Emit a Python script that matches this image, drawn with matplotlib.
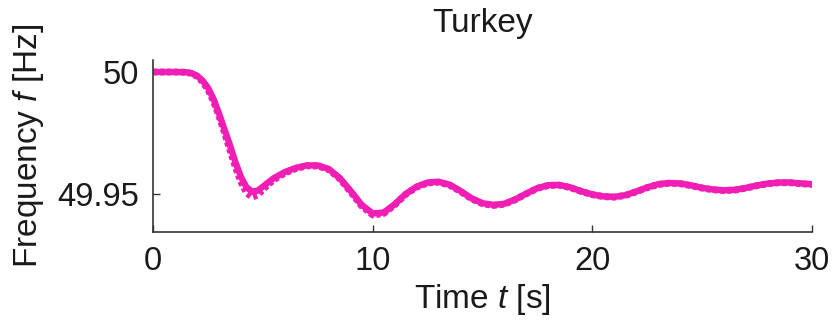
import matplotlib
matplotlib.use('Agg')
import matplotlib.pyplot as plt

# Time axis [s] and frequency [Hz]
time_s = [0, 0.5, 1.0, 1.5, 1.75, 2.0, 2.25, 2.5, 2.75, 3.0, 3.25, 3.5, 3.75, 4.0,
          4.25, 4.5, 4.75, 5.0, 5.25, 5.5, 6.0, 6.5, 7.0, 7.5, 8.0, 8.5, 9.0, 9.5,
          10.0, 10.5, 11.0, 11.5, 12.0, 12.5, 13.0, 13.5, 14.0, 14.5, 15.0, 15.5,
          16.0, 16.5, 17.0, 17.5, 18.0, 18.5, 19.0, 19.5, 20.0, 20.5, 21.0, 21.5,
          22.0, 22.5, 23.0, 23.5, 24.0, 24.5, 25.0, 25.5, 26.0, 26.5, 27.0, 27.5,
          28.0, 28.5, 29.0, 29.5, 30.0]
freq_sim = [50.000, 50.000, 50.000, 49.9999, 49.9995, 49.9985, 49.9965, 49.9935, 49.989,
            49.983, 49.9765, 49.970, 49.963, 49.957, 49.9528, 49.9510, 49.9513, 49.9530,
            49.9548, 49.9565, 49.9590, 49.9607, 49.9617, 49.9617, 49.9602, 49.9565,
            49.9512, 49.9455, 49.9420, 49.9424, 49.9458, 49.9500, 49.9530, 49.9547,
            49.9550, 49.9538, 49.9512, 49.9482, 49.9462, 49.9455, 49.9460, 49.9478,
            49.9502, 49.9524, 49.9536, 49.9537, 49.9527, 49.9511, 49.9498, 49.9490,
            49.9488, 49.9495, 49.9510, 49.9527, 49.9540, 49.9545, 49.9543, 49.9535,
            49.9525, 49.9518, 49.9515, 49.9517, 49.9525, 49.9535, 49.9543, 49.9547,
            49.9547, 49.9543, 49.9540]
freq_meas = [50.000, 50.000, 50.000, 49.9999, 49.9994, 49.9982, 49.9960, 49.9928, 49.988,
             49.982, 49.9752, 49.968, 49.961, 49.955, 49.9505, 49.9487, 49.9495, 49.9518,
             49.9540, 49.9558, 49.9586, 49.9604, 49.9615, 49.9615, 49.9600, 49.9562,
             49.9508, 49.9450, 49.9414, 49.9420, 49.9455, 49.9498, 49.9528, 49.9545,
             49.9548, 49.9536, 49.9510, 49.9480, 49.9460, 49.9453, 49.9458, 49.9477,
             49.9501, 49.9523, 49.9535, 49.9536, 49.9526, 49.9510, 49.9497, 49.9489,
             49.9487, 49.9494, 49.9509, 49.9526, 49.9539, 49.9544, 49.9542, 49.9534,
             49.9524, 49.9517, 49.9514, 49.9516, 49.9524, 49.9534, 49.9542, 49.9546,
             49.9546, 49.9542, 49.9539]
x_ticks = [0, 10, 20, 30]
x_tick_labels = ['0', '10', '20', '30']
y_ticks = [49.95, 50]
y_tick_labels = ['49.95', '50']

plt.rcParams['font.family'] = ['Liberation Sans', 'DejaVu Sans']
plt.rcParams['mathtext.fontset'] = 'custom'
plt.rcParams['mathtext.rm'] = 'Liberation Sans'
plt.rcParams['mathtext.it'] = 'Liberation Sans:italic'

fig = plt.figure(figsize=(8.32, 3.22), dpi=100)
ax = fig.add_axes([0.184, 0.2795, 0.792, 0.534])

col = '#f01eb4'
ax.plot(time_s, freq_meas, color=col, lw=5.0, ls=(0, (0.6, 0.4)))
ax.plot(time_s, freq_sim, color=col, lw=4.6, solid_joinstyle='round')

ax.set_xlim(0, 30)
ax.set_ylim(49.9344, 50.0049)
ax.set_xticks(x_ticks)
ax.set_xticklabels(x_tick_labels)
ax.set_yticks(y_ticks)
ax.set_yticklabels(y_tick_labels)

for s in ['top', 'right']:
    ax.spines[s].set_visible(False)
for s in ['left', 'bottom']:
    ax.spines[s].set_color('#333333')
    ax.spines[s].set_linewidth(1.2)
ax.tick_params(direction='in', length=5, width=1, color='#333333',
               labelsize=23.5, labelcolor='#1a1a1a')
ax.tick_params(axis='x', pad=10)
ax.tick_params(axis='y', pad=10)

ax.set_title('Turkey', fontsize=24, pad=20, color='#1a1a1a')
ax.set_xlabel('Time $\\it{t}$ [s]', fontsize=24, labelpad=4, color='#1a1a1a')
ax.set_ylabel('Frequency $\\it{f}$ [Hz]', fontsize=24, labelpad=8, color='#1a1a1a')

fig.savefig('out.png', dpi=100)
